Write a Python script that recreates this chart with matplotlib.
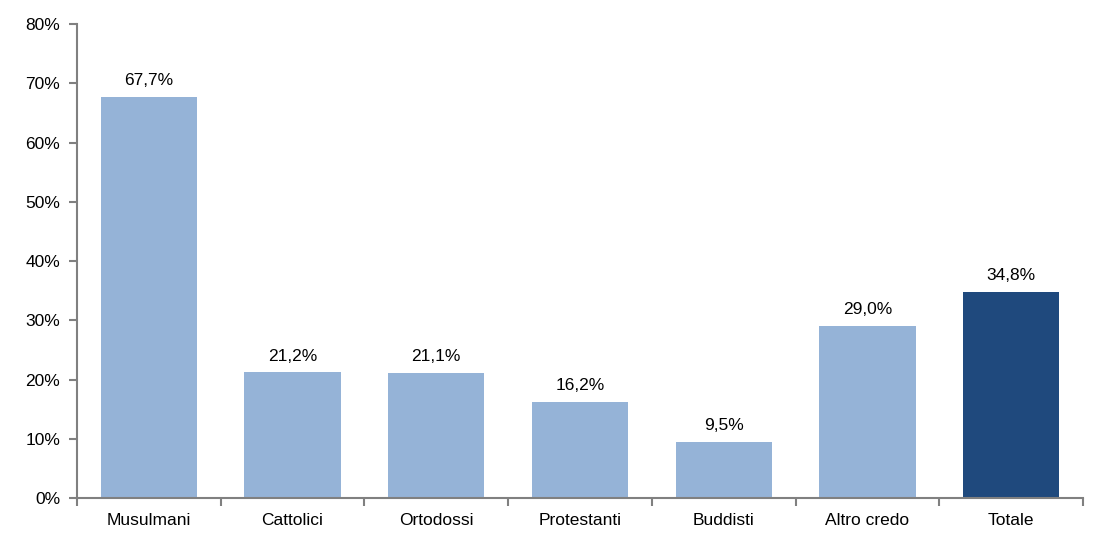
import matplotlib
matplotlib.use("Agg")
import matplotlib.pyplot as plt
import numpy as np

categorie = ["Musulmani", "Cattolici", "Ortodossi", "Protestanti", "Buddisti", "Altro credo", "Totale"]
valori = [67.7, 21.2, 21.1, 16.2, 9.5, 29.0, 34.8]
colori = ["#95B3D7"] * 6 + ["#1F497D"]

plt.rcParams["font.family"] = ["Liberation Sans", "DejaVu Sans"]

fig = plt.figure(figsize=(10.95, 5.35), dpi=100)
ax = fig.add_axes([0.0703, 0.0692, 0.9187, 0.8858])

x = np.arange(len(categorie))
ax.bar(x, valori, width=0.67, color=colori)
for xi, v in zip(x, valori):
    ax.text(xi, v + 1.5, f"{v:.1f}%".replace(".", ","), ha="center", va="bottom", fontsize=12.5)

ax.set_xlim(-0.5, len(categorie) - 0.5)
ax.set_ylim(0, 80)
ax.set_yticks(np.arange(0, 81, 10))
ax.set_yticklabels([f"{t}%" for t in range(0, 81, 10)], fontsize=12.5)
ax.set_xticks(x)
ax.set_xticklabels(categorie, fontsize=12.5)
ax.tick_params(axis="x", length=0, pad=11)
ax.set_xticks(np.arange(-0.5, len(categorie), 1), minor=True)
ax.tick_params(axis="x", which="minor", length=6, color="#808080", width=1.5)
ax.tick_params(axis="y", length=6, color="#808080", width=1.5, pad=6)

for s in ["top", "right"]:
    ax.spines[s].set_visible(False)
for s in ["left", "bottom"]:
    ax.spines[s].set_color("#808080")
    ax.spines[s].set_linewidth(1.5)

fig.savefig("out.png", dpi=100)
